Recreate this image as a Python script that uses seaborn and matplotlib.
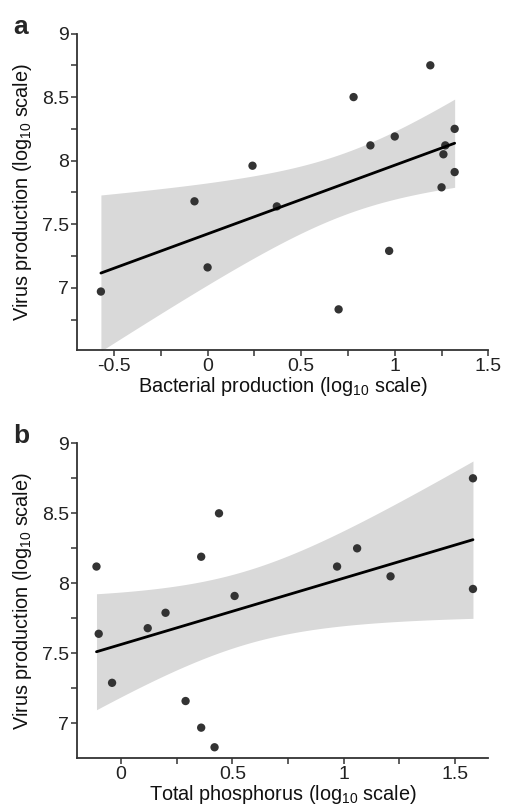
import matplotlib
matplotlib.use("Agg")
import matplotlib.pyplot as plt
from matplotlib.ticker import MultipleLocator, FormatStrFormatter
import seaborn as sns
import numpy as np

# Virus production shared by both panels (log10)
virus = [8.75, 8.50, 8.12, 8.12, 8.19, 7.96, 8.25, 8.05,
         7.91, 7.79, 7.68, 7.64, 7.16, 7.29, 6.97, 6.83]
# Panel a: bacterial production (log10)
bacterial = [1.19, 0.78, 0.87, 1.27, 1.00, 0.24, 1.32, 1.26,
             1.32, 1.25, -0.07, 0.37, 0.00, 0.97, -0.57, 0.70]
# Panel b: total phosphorus (log10)
phosphorus = [1.58, 0.44, -0.11, 0.97, 0.36, 1.58, 1.06, 1.21,
              0.51, 0.20, 0.12, -0.10, 0.29, -0.04, 0.36, 0.42]

YLABEL = "Virus production (log$_{\\mathregular{10}}$ scale)"
XLABEL_A = "Bacterial production (log$_{\\mathregular{10}}$ scale)"
XLABEL_B = "Total phosphorus (log$_{\\mathregular{10}}$ scale)"

T95 = 2.1448  # t quantile, df = n - 2 = 14

sns.set_theme(style="ticks")
plt.rcParams["font.family"] = ["Liberation Sans", "DejaVu Sans"]
plt.rcParams["mathtext.fontset"] = "custom"
plt.rcParams["mathtext.rm"] = "Liberation Sans"
plt.rcParams["axes.unicode_minus"] = False

SPINE = "#333333"
POINT = "#333333"

fig = plt.figure(figsize=(5.06, 8.08), dpi=100)
ax_a = fig.add_axes([0.1528, 0.5668, 0.8123, 0.3917])
ax_b = fig.add_axes([0.1528, 0.0620, 0.8123, 0.3894])


def ci_band(ax, x, y):
    # classic t-based confidence band of the OLS fit
    x = np.asarray(x)
    y = np.asarray(y)
    n = len(x)
    b1, b0 = np.polyfit(x, y, 1)
    resid = y - (b0 + b1 * x)
    s = np.sqrt((resid ** 2).sum() / (n - 2))
    grid = np.linspace(x.min(), x.max(), 100)
    se = s * np.sqrt(1 / n + (grid - x.mean()) ** 2 / ((x - x.mean()) ** 2).sum())
    fit = b0 + b1 * grid
    ax.fill_between(grid, fit - T95 * se, fit + T95 * se,
                    color="#d9d9d9", lw=0, zorder=1)


def panel(ax, x, y, xlim, ylim, xlabel, letter):
    ci_band(ax, x, y)
    sns.regplot(
        ax=ax, x=np.array(x), y=np.array(y), ci=None,
        scatter_kws=dict(s=36, color=POINT, edgecolor="none", alpha=1, zorder=3),
        line_kws=dict(color="black", lw=2.0, zorder=4))
    ax.set_xlim(*xlim)
    ax.set_ylim(*ylim)
    ax.xaxis.set_major_locator(MultipleLocator(0.5))
    ax.xaxis.set_minor_locator(MultipleLocator(0.25))
    ax.yaxis.set_major_locator(MultipleLocator(0.5))
    ax.yaxis.set_minor_locator(MultipleLocator(0.25))
    ax.xaxis.set_major_formatter(FormatStrFormatter("%g"))
    ax.yaxis.set_major_formatter(FormatStrFormatter("%g"))
    ax.tick_params(which="both", direction="out", length=4.5, width=1.1,
                   color=SPINE, labelsize=14, labelcolor="#222222", pad=1.5)
    for side in ["top", "right"]:
        ax.spines[side].set_visible(False)
    for side in ["left", "bottom"]:
        ax.spines[side].set_color(SPINE)
        ax.spines[side].set_linewidth(1.3)
    ax.set_xlabel(xlabel, fontsize=14.3, color="#111111", labelpad=-0.5)
    ax.set_ylabel(YLABEL, fontsize=14.3, color="#111111", labelpad=6)
    ax.text(-0.155, 1.06, letter, transform=ax.transAxes, fontsize=19,
            fontweight="bold", va="top", ha="left")


panel(ax_a, bacterial, virus, (-0.696, 1.5), (6.51, 9.0), XLABEL_A, "a")
panel(ax_b, phosphorus, virus, (-0.196, 1.649), (6.754, 9.0), XLABEL_B, "b")

fig.savefig("out.png", dpi=100, facecolor="white")
